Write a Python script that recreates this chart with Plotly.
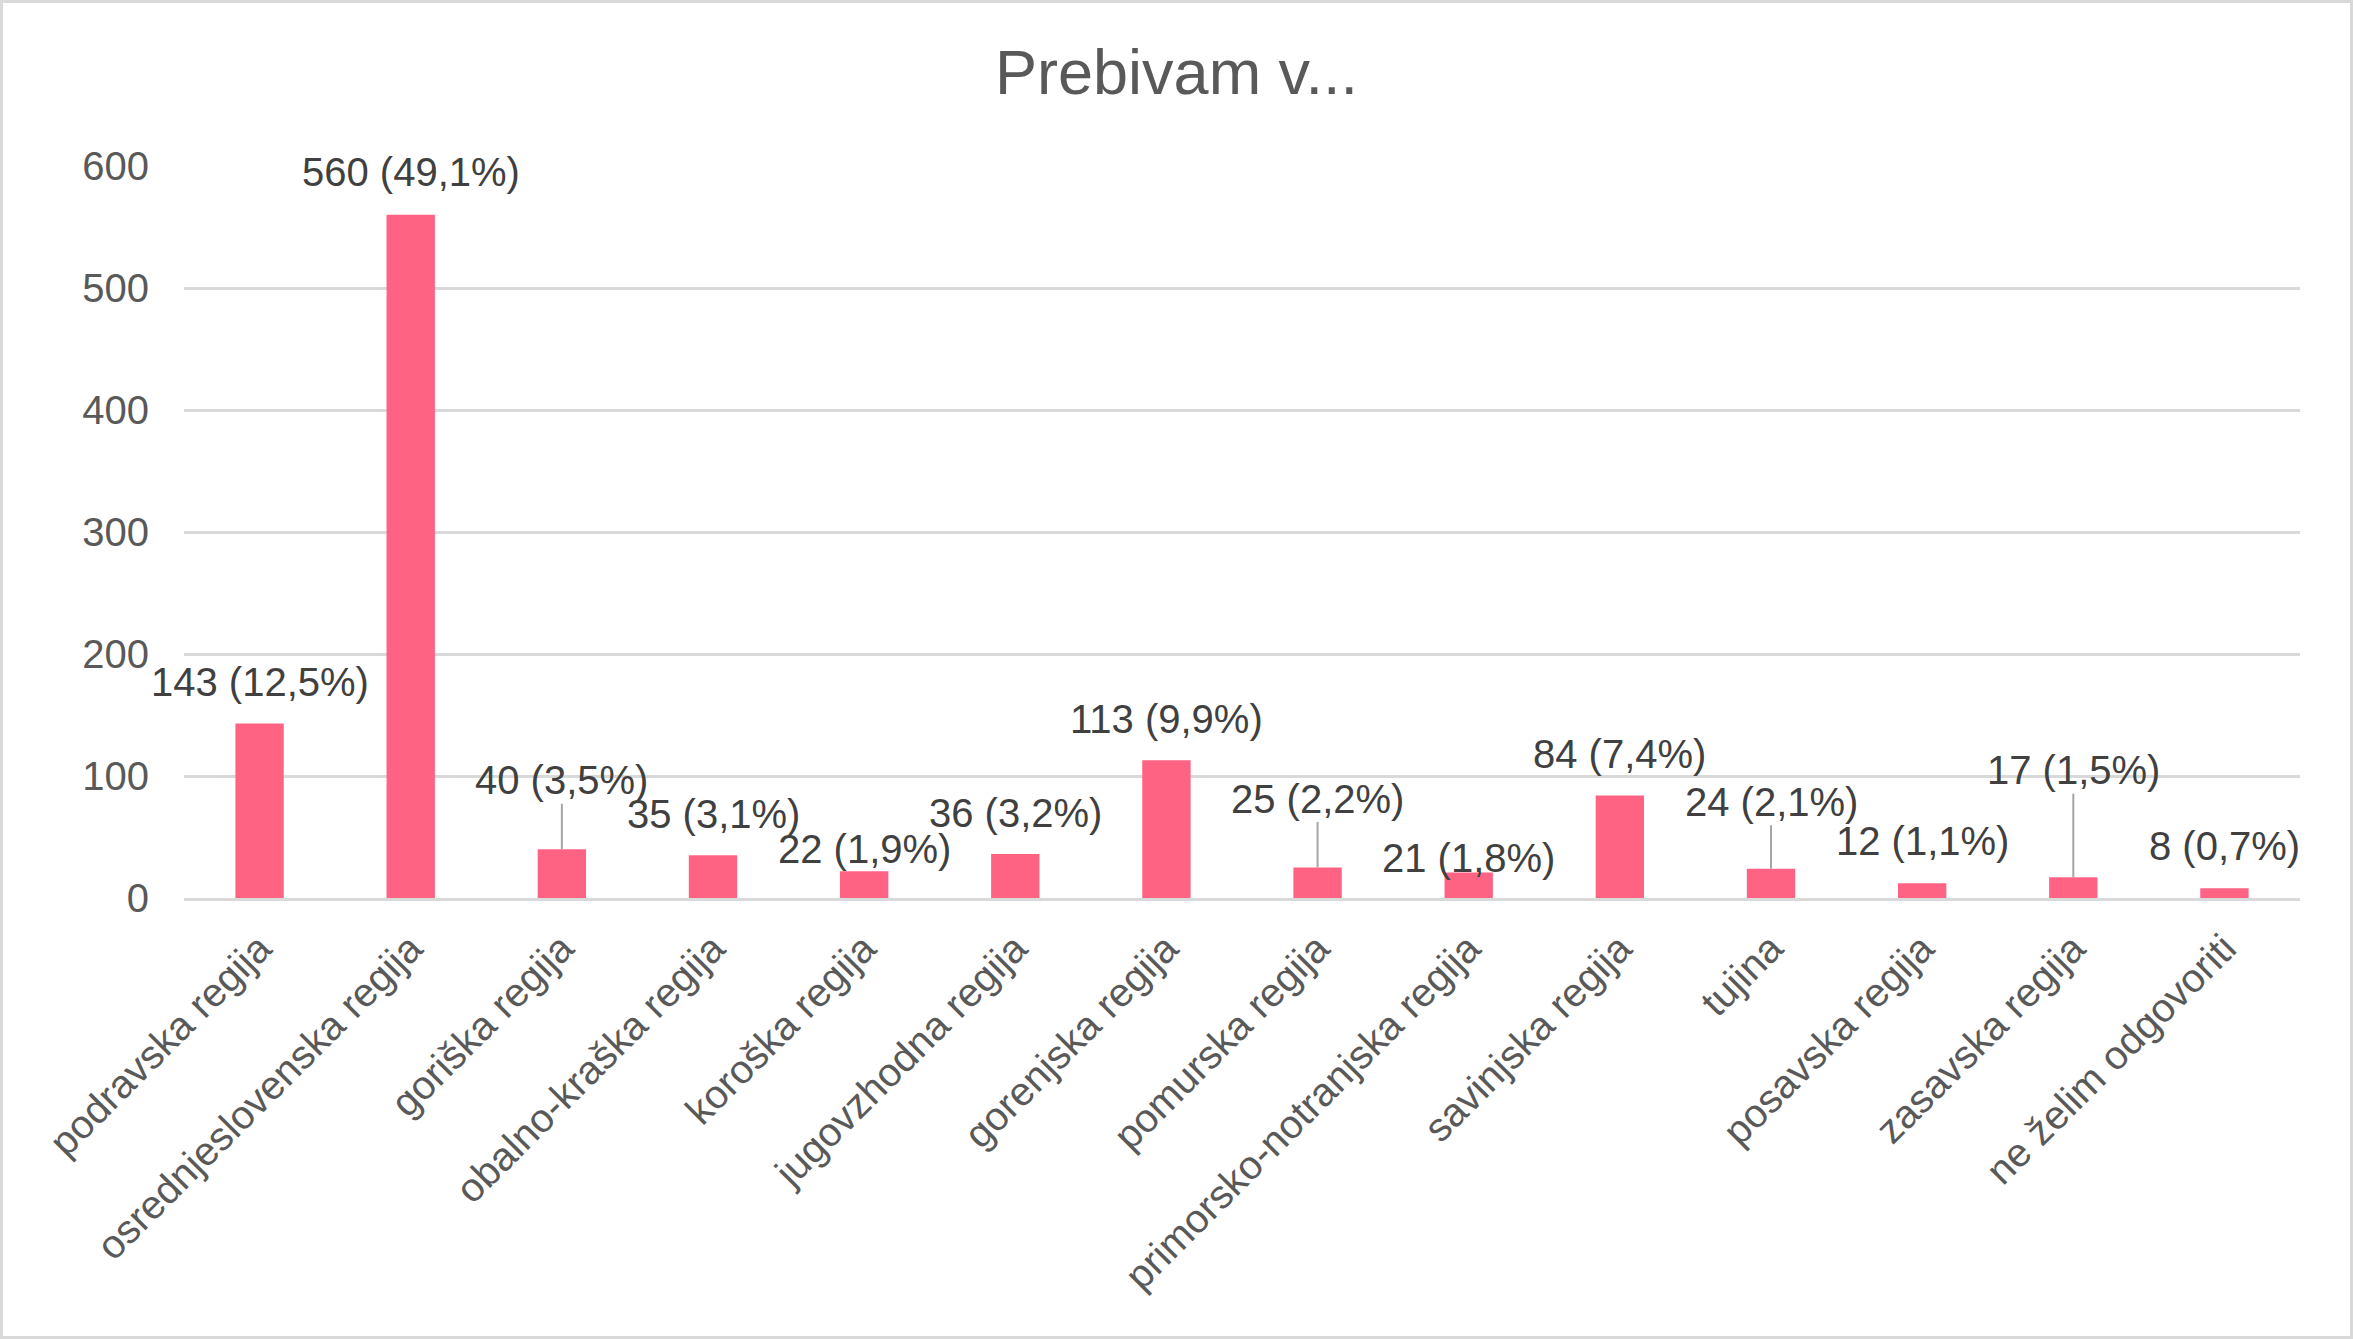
import plotly.graph_objects as go

categories = ["podravska regija", "osrednjeslovenska regija", "goriška regija",
              "obalno-kraška regija", "koroška regija", "jugovzhodna regija",
              "gorenjska regija", "pomurska regija", "primorsko-notranjska regija",
              "savinjska regija", "tujina", "posavska regija", "zasavska regija",
              "ne želim odgovoriti"]
counts = [143, 560, 40, 35, 22, 36, 113, 25, 21, 84, 24, 12, 17, 8]
percent_labels = ["12,5%", "49,1%", "3,5%", "3,1%", "1,9%", "3,2%", "9,9%",
                  "2,2%", "1,8%", "7,4%", "2,1%", "1,1%", "1,5%", "0,7%"]
y_ticks = [0, 100, 200, 300, 400, 500, 600]

# label placement (pixel offsets above bar top) and whether a leader line is drawn
label_offsets = [-42, -43, -69, -41, -22, -41, -41, -69, -14, -42, -67, -42, -107, -42]
leader_lines = [False, False, True, False, False, False, False, True, False, False, True, False, True, False]

W, H = 2353, 1339
ML, MR, MT, MB = 184, 53, 166, 441
FONT = "Liberation Sans, Arial, sans-serif"
GRID = "#d9d9d9"

fig = go.Figure()
fig.add_trace(go.Bar(
    x=categories, y=counts,
    marker=dict(color="#ff6384", line=dict(width=0)),
    width=0.32,
    hoverinfo="x+y",
))

for cat, v, p, off, lead in zip(categories, counts, percent_labels, label_offsets, leader_lines):
    txt = f"{v} ({p})"
    if lead:
        fig.add_annotation(x=cat, y=v, text=txt, showarrow=True, arrowhead=0,
                           arrowwidth=2, arrowcolor="#a6a6a6", ax=0, ay=off,
                           standoff=0, startstandoff=0,
                           font=dict(family=FONT, size=40, color="#404040"))
    else:
        fig.add_annotation(x=cat, y=v, text=txt, showarrow=False, yshift=-off,
                           yanchor="middle",
                           font=dict(family=FONT, size=40, color="#404040"))

pw = W - ML - MR
ph = H - MT - MB
fig.add_shape(type="rect", xref="paper", yref="paper",
              x0=-(ML - 1.5) / pw, x1=1 + (MR - 1.5) / pw,
              y0=-(MB - 1.5) / ph, y1=1 + (MT - 1.5) / ph,
              line=dict(color=GRID, width=3), fillcolor="rgba(0,0,0,0)", layer="above")

fig.update_layout(
    width=W, height=H,
    margin=dict(l=ML, r=MR, t=MT, b=MB, autoexpand=False),
    paper_bgcolor="white", plot_bgcolor="white",
    showlegend=False,
    bargap=0.68,
    title=dict(text="Prebivam v...", x=(W / 2 - ML) / pw, xref="paper", xanchor="center",
               y=1 - 72 / H, yref="container", yanchor="middle",
               font=dict(family=FONT, size=63, color="#595959")),
    font=dict(family=FONT, color="#595959"),
    xaxis=dict(
        range=[-0.5, len(categories) - 0.5], autorange=False,
        tickangle=-45, tickfont=dict(family=FONT, size=40, color="#595959"),
        showline=True, linecolor=GRID, linewidth=2.5, showgrid=False,
        ticks="", ticklabelstandoff=8,
    ),
    yaxis=dict(
        range=[0, 600], tickvals=y_ticks,
        tickfont=dict(family=FONT, size=40, color="#595959"),
        showgrid=True, gridcolor=GRID, gridwidth=2.5,
        zeroline=False, showline=False, ticks="", ticklabelstandoff=34,
    ),
)

fig.write_html("out.html", config={"displayModeBar": False},
               post_script="document.body.style.margin='0';document.body.style.overflow='hidden';")
